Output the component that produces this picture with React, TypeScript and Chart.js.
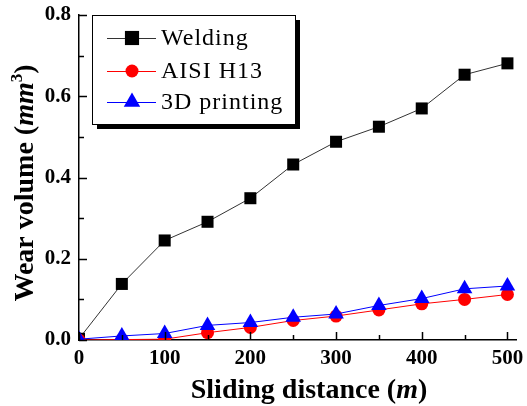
import React, { useEffect, useRef } from "react";
import { Chart, registerables } from "chart.js";

Chart.register(...registerables);

const distances = [0, 50, 100, 150, 200, 250, 300, 350, 400, 450, 500];
const welding = [0.003, 0.138, 0.245, 0.291, 0.349, 0.432, 0.488, 0.525, 0.57, 0.653, 0.681];
const aisiH13 = [0.0, 0.001, 0.002, 0.018, 0.031, 0.048, 0.059, 0.074, 0.089, 0.1, 0.112];
const printing3D = [0.002, 0.01, 0.016, 0.036, 0.043, 0.056, 0.064, 0.085, 0.102, 0.126, 0.133];

const seriesNames = ["Welding", "AISI H13", "3D printing"];
const xTickValues = [0, 50, 100, 150, 200, 250, 300, 350, 400, 450, 500];
const xTickLabels = ["0", "", "100", "", "200", "", "300", "", "400", "", "500"];
const yTickValues = [0, 0.1, 0.2, 0.3, 0.4, 0.5, 0.6, 0.7, 0.8];
const yTickLabels = ["0.0", "", "0.2", "", "0.4", "", "0.6", "", "0.8"];

const SERIF = "'Liberation Serif', 'Times New Roman', serif";

type Part = { t: string; font: string; dy?: number };

function drawParts(ctx: CanvasRenderingContext2D, parts: Part[], cx: number, baseline: number) {
  let total = 0;
  const widths = parts.map((p) => {
    ctx.font = p.font;
    const w = ctx.measureText(p.t).width;
    total += w;
    return w;
  });
  let x = cx - total / 2;
  ctx.textAlign = "left";
  ctx.textBaseline = "alphabetic";
  parts.forEach((p, i) => {
    ctx.font = p.font;
    ctx.fillText(p.t, x, baseline + (p.dy || 0));
    x += widths[i];
  });
}

function drawMarker(ctx: CanvasRenderingContext2D, style: string, x: number, y: number, r: number, color: string) {
  ctx.fillStyle = color;
  ctx.beginPath();
  if (style === "rect") {
    const s = Math.SQRT1_2 * r;
    ctx.rect(x - s, y - s, 2 * s, 2 * s);
  } else if (style === "circle") {
    ctx.arc(x, y, r, 0, Math.PI * 2);
  } else if (style === "triangle") {
    let a = -Math.PI / 2;
    ctx.moveTo(x + Math.cos(a) * r, y + Math.sin(a) * r);
    a += (2 * Math.PI) / 3;
    ctx.lineTo(x + Math.cos(a) * r, y + Math.sin(a) * r);
    a += (2 * Math.PI) / 3;
    ctx.lineTo(x + Math.cos(a) * r, y + Math.sin(a) * r);
    ctx.closePath();
  }
  ctx.fill();
}

const legendRadius: Record<string, number> = { rect: 10, circle: 6.5, triangle: 9.5 };

const decorPlugin = {
  id: "decor",
  afterDraw(chart: any) {
    const ctx: CanvasRenderingContext2D = chart.ctx;
    const area = chart.chartArea;
    const xs = chart.scales.x;
    const ys = chart.scales.y;
    ctx.save();
    // inward ticks
    ctx.strokeStyle = "#000";
    ctx.lineWidth = 1.5;
    ctx.beginPath();
    xTickValues.forEach((v, i) => {
      const px = Math.round(xs.getPixelForValue(v)) + 0.5;
      const len = xTickLabels[i] ? 8 : 5;
      ctx.moveTo(px, area.bottom);
      ctx.lineTo(px, area.bottom - len);
    });
    yTickValues.forEach((v, i) => {
      const py = Math.round(ys.getPixelForValue(v)) + 0.5;
      const len = yTickLabels[i] ? 8 : 5;
      ctx.moveTo(area.left, py);
      ctx.lineTo(area.left + len, py);
    });
    ctx.stroke();

    // axis titles
    ctx.fillStyle = "#000";
    drawParts(
      ctx,
      [
        { t: "Sliding distance (", font: `bold 28px ${SERIF}` },
        { t: "m", font: `italic bold 28px ${SERIF}` },
        { t: ")", font: `bold 28px ${SERIF}` },
      ],
      309,
      398
    );
    ctx.save();
    ctx.translate(33, 183);
    ctx.rotate(-Math.PI / 2);
    drawParts(
      ctx,
      [
        { t: "Wear volume (", font: `bold 28px ${SERIF}` },
        { t: "mm", font: `italic bold 28px ${SERIF}` },
        { t: "3", font: `bold 17px ${SERIF}`, dy: -11 },
        { t: ")", font: `bold 28px ${SERIF}` },
      ],
      0,
      0
    );
    ctx.restore();

    // legend
    const bx = 92, by = 15, bw = 203, bh = 109;
    ctx.fillStyle = "#000";
    ctx.fillRect(bx + 5, by + 5, bw, bh);
    ctx.fillStyle = "#fff";
    ctx.fillRect(bx, by, bw, bh);
    ctx.strokeStyle = "#000";
    ctx.lineWidth = 1;
    ctx.strokeRect(bx + 0.5, by + 0.5, bw, bh);
    const rows = [38, 71, 102];
    chart.data.datasets.forEach((ds: any, i: number) => {
      const y = rows[i];
      ctx.strokeStyle = ds.borderColor;
      ctx.lineWidth = 1;
      ctx.beginPath();
      ctx.moveTo(107, y + 0.5);
      ctx.lineTo(156, y + 0.5);
      ctx.stroke();
      drawMarker(ctx, ds.pointStyle, 132, y, legendRadius[ds.pointStyle], ds.pointBackgroundColor);
      ctx.fillStyle = "#000";
      ctx.font = `24px ${SERIF}`;
      (ctx as any).letterSpacing = "1px";
      ctx.textAlign = "left";
      ctx.textBaseline = "middle";
      ctx.fillText(ds.label, 161, y + 1);
      (ctx as any).letterSpacing = "0px";
    });
    ctx.restore();
  },
};

export default function App() {
  const ref = useRef<HTMLCanvasElement | null>(null);
  useEffect(() => {
    if (!ref.current) return;
    const mk = (vals: number[]) => distances.map((d, i) => ({ x: d, y: vals[i] }));
    const chart = new Chart(ref.current, {
      type: "line",
      data: {
        datasets: [
          {
            label: seriesNames[0],
            data: mk(welding),
            borderColor: "#333333",
            borderWidth: 1,
            pointStyle: "rect",
            pointRadius: 8.5,
            pointBackgroundColor: "#000",
            pointBorderWidth: 0,
            order: 2,
            clip: 0,
          },
          {
            label: seriesNames[1],
            data: mk(aisiH13),
            borderColor: "#ff0000",
            borderWidth: 1,
            pointStyle: "circle",
            pointRadius: 6.5,
            pointBackgroundColor: "#ff0000",
            pointBorderWidth: 0,
            order: 1,
            clip: 0,
          },
          {
            label: seriesNames[2],
            data: mk(printing3D),
            borderColor: "#0000ff",
            borderWidth: 1,
            pointStyle: "triangle",
            pointRadius: 9,
            pointBackgroundColor: "#0000ff",
            pointBorderWidth: 0,
            order: 0,
            clip: 0,
          },
        ] as any,
      },
      options: {
        animation: false,
        responsive: false,
        layout: { padding: { top: 15, right: 11, left: 0, bottom: 0 } },
        plugins: { legend: { display: false }, tooltip: { enabled: false } },
        scales: {
          x: {
            type: "linear",
            min: 0,
            max: 510,
            afterBuildTicks: (s: any) => {
              s.ticks = xTickValues.map((v) => ({ value: v }));
            },
            afterFit: (s: any) => {
              s.height = 66;
              s.paddingLeft = 0;
              s.paddingRight = 0;
            },
            ticks: {
              autoSkip: false,
              maxRotation: 0,
              padding: 6,
              color: "#000",
              font: { family: SERIF, size: 21, weight: "bold" },
              callback: (_v: any, i: number) => xTickLabels[i],
            },
            grid: { display: true, drawOnChartArea: false, drawTicks: false },
            border: { display: true, color: "#000", width: 1.5 },
          },
          y: {
            type: "linear",
            min: 0,
            max: 0.8,
            afterBuildTicks: (s: any) => {
              s.ticks = yTickValues.map((v) => ({ value: v }));
            },
            afterFit: (s: any) => {
              s.width = 79;
              s.paddingTop = 0;
              s.paddingBottom = 0;
            },
            ticks: {
              autoSkip: false,
              padding: 8,
              color: "#000",
              font: { family: SERIF, size: 21, weight: "bold" },
              callback: (_v: any, i: number) => yTickLabels[i],
            },
            grid: { display: true, drawOnChartArea: false, drawTicks: false },
            border: { display: true, color: "#000", width: 1.5 },
          },
        },
      } as any,
      plugins: [decorPlugin],
    });
    return () => chart.destroy();
  }, []);
  return (
    <div style={{ position: "fixed", left: 0, top: 0, width: 527, height: 406, background: "#fff" }}>
      <canvas ref={ref} width={527} height={406} style={{ display: "block" }} />
    </div>
  );
}
